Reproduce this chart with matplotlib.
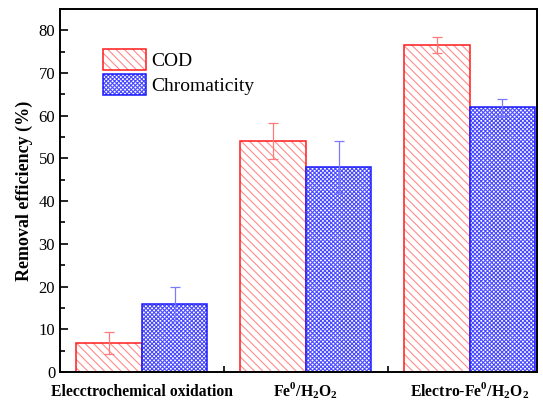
"""Removal efficiency bars: COD vs chromaticity for three treatment processes."""

import matplotlib

matplotlib.use("Agg")

import matplotlib.pyplot as plt
import numpy as np
from matplotlib.legend_handler import HandlerTuple
from matplotlib.patches import Patch
from matplotlib.ticker import FixedLocator, MultipleLocator

categories = ["Elecctrochemical oxidation", r"Fe$^\mathbf{0}$/H$_\mathbf{2}$O$_\mathbf{2}$",
              r"Electro-Fe$^\mathbf{0}$/H$_\mathbf{2}$O$_\mathbf{2}$"]
cod = [6.8, 54.1, 76.6]
cod_err = [2.5, 4.2, 1.9]
chroma = [16.0, 48.0, 62.0]
chroma_err = [4.0, 6.0, 2.0]

plt.rcParams["font.family"] = ["Liberation Serif", "DejaVu Serif"]
plt.rcParams["mathtext.fontset"] = "custom"
plt.rcParams["mathtext.rm"] = "Liberation Serif"
plt.rcParams["mathtext.bf"] = "Liberation Serif:bold"
plt.rcParams["hatch.linewidth"] = 0.8

RED, RED_L = "#ff1a1a", "#ff8a8a"
BLUE, BLUE_L = "#1a1aff", "#4a4aff"
COD_HATCH, CHR_HATCH = "\\\\\\\\", "xxxxxxxx"

fig = plt.figure(figsize=(5.43, 4.03), dpi=100)
ax = fig.add_axes([0.1105, 0.077, 0.878, 0.901])

x = np.arange(1, len(categories) + 1)
w = 0.40
# hatch drawn in a lighter tone, then a solid outline on top
ax.bar(x - w / 2, cod, w, color="white", edgecolor=RED_L, hatch=COD_HATCH, lw=0)
ax.bar(x - w / 2, cod, w, fill=False, edgecolor=RED, lw=1.1)
ax.bar(x + w / 2, chroma, w, color="white", edgecolor=BLUE_L, hatch=CHR_HATCH, lw=0)
ax.bar(x + w / 2, chroma, w, fill=False, edgecolor=BLUE, lw=1.1)
ax.errorbar(x - w / 2, cod, yerr=cod_err, fmt="none", ecolor="#ff7a7a",
            elinewidth=0.9, capsize=3.5, capthick=0.9)
ax.errorbar(x + w / 2, chroma, yerr=chroma_err, fmt="none", ecolor="#7a7aff",
            elinewidth=0.9, capsize=3.5, capthick=0.9)

ax.set_xlim(0.5, 3.41)
ax.set_ylim(0, 85)
ax.set_yticks(np.arange(0, 81, 10))
ax.yaxis.set_minor_locator(MultipleLocator(5))
ax.set_xticks(x)
ax.set_xticklabels(categories, fontweight="bold", fontsize=11.3)
for lab in ax.get_xticklabels():
    lab.set_verticalalignment("baseline")
ax.xaxis.set_minor_locator(FixedLocator([1.5, 2.5]))
ax.tick_params(axis="x", which="major", length=0, pad=17.5)
ax.tick_params(axis="x", which="minor", direction="in", length=4, width=1.2)
ax.tick_params(axis="y", which="major", direction="in", length=6, width=1.2, labelsize=12)
ax.tick_params(axis="y", which="minor", direction="in", length=3.5, width=1.2)
for s in ax.spines.values():
    s.set_linewidth(1.4)

ax.set_ylabel("Removal efficiency (%)", fontweight="bold", fontsize=13)

h_cod = (Patch(facecolor="white", edgecolor=RED_L, hatch=COD_HATCH, lw=0),
         Patch(fill=False, edgecolor=RED, lw=1.1))
h_chr = (Patch(facecolor="white", edgecolor=BLUE_L, hatch=CHR_HATCH, lw=0),
         Patch(fill=False, edgecolor=BLUE, lw=1.1))
ax.legend([h_cod, h_chr], ["COD", "Chromaticity"],
          handler_map={tuple: HandlerTuple(ndivide=1, pad=0)},
          loc="upper left", bbox_to_anchor=(0.09, 0.89), frameon=False, fontsize=14,
          handlelength=2.2, handleheight=1.3, handletextpad=0.3, labelspacing=0.2,
          borderaxespad=0, borderpad=0)

fig.savefig("out.png", dpi=100)
